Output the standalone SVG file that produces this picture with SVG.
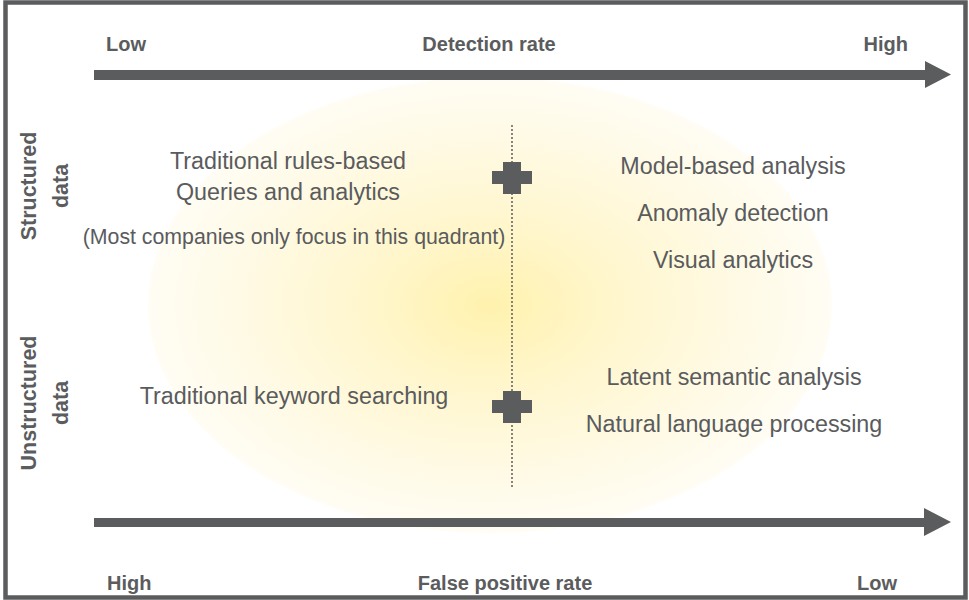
<svg xmlns="http://www.w3.org/2000/svg" width="969" height="600" viewBox="0 0 969 600">
  <defs>
    <radialGradient id="glow" cx="0.5" cy="0.5" r="0.5">
      <stop offset="0" stop-color="#fff2ae"/>
      <stop offset="0.35" stop-color="#fff6cc"/>
      <stop offset="0.75" stop-color="#fffae6"/>
      <stop offset="1" stop-color="#fffdf4"/>
    </radialGradient>
    <style>
      .axis { font-family: "Liberation Sans", Arial, sans-serif; font-weight: bold; font-size: 20px; fill: #5b5c5e; }
      .side { font-family: "Liberation Sans", Arial, sans-serif; font-weight: bold; font-size: 21.5px; fill: #5b5c5e; text-anchor: middle; }
      .item { font-family: "Liberation Sans", Arial, sans-serif; font-size: 23.3px; fill: #5a5b5d; text-anchor: middle; }
      .note { font-family: "Liberation Sans", Arial, sans-serif; font-size: 21.3px; fill: #5a5b5d; text-anchor: middle; }
      .shaft { fill: #5b5c5e; }
      .plus { fill: #5b5c5e; }
      .divider { stroke: #5b5c5e; stroke-width: 2; stroke-dasharray: 0 4; stroke-linecap: round; fill: none; }
    </style>
  </defs>

  <!-- background and frame -->
  <rect x="0" y="0" width="969" height="600" fill="#ffffff"/>
  <ellipse cx="490" cy="305" rx="342" ry="228" fill="url(#glow)"/>
  <rect x="5.5" y="2.5" width="960" height="595" fill="none" stroke="#5b5c5e" stroke-width="4.5"/>

  <!-- axes -->
  <g id="connectors">
    <path class="shaft" d="M94,70 H925 V61 L951,74.5 L925,88 V80 H94 Z"/>
    <path class="shaft" d="M94,518 H924 V508 L951,522 L924,536 V527 H94 Z"/>
    <line class="divider" x1="512" y1="126" x2="512" y2="487"/>
  </g>

  <!-- axis labels -->
  <g id="detection-axis">
    <text class="axis" x="106" y="51">Low</text>
    <text class="axis" x="489" y="51" text-anchor="middle">Detection rate</text>
    <text class="axis" x="908" y="51" text-anchor="end">High</text>
  </g>
  <g id="false-positive-axis">
    <text class="axis" x="107" y="590">High</text>
    <text class="axis" x="505" y="590" text-anchor="middle">False positive rate</text>
    <text class="axis" x="897" y="590" text-anchor="end">Low</text>
  </g>

  <!-- row labels -->
  <g id="row-structured" transform="translate(0,186) rotate(-90)">
    <text class="side" x="0" y="36">Structured</text>
    <text class="side" x="0" y="68">data</text>
  </g>
  <g id="row-unstructured" transform="translate(0,403) rotate(-90)">
    <text class="side" x="0" y="36">Unstructured</text>
    <text class="side" x="0" y="68">data</text>
  </g>

  <!-- markers on the divider -->
  <g id="marker-structured">
    <rect class="plus" x="492" y="171" width="40" height="13"/>
    <rect class="plus" x="503" y="162" width="18" height="32"/>
  </g>
  <g id="marker-unstructured">
    <rect class="plus" x="492" y="400" width="40" height="13"/>
    <rect class="plus" x="503" y="391" width="18" height="32"/>
  </g>

  <!-- quadrant contents -->
  <g id="structured-low">
    <text class="item" x="288" y="169">Traditional rules-based</text>
    <text class="item" x="288" y="200">Queries and analytics</text>
    <text class="note" x="294" y="244">(Most companies only focus in this quadrant)</text>
  </g>
  <g id="structured-high">
    <text class="item" x="733" y="174">Model-based analysis</text>
    <text class="item" x="733" y="221">Anomaly detection</text>
    <text class="item" x="733" y="268">Visual analytics</text>
  </g>
  <g id="unstructured-low">
    <text class="item" x="294" y="404">Traditional keyword searching</text>
  </g>
  <g id="unstructured-high">
    <text class="item" x="734" y="385">Latent semantic analysis</text>
    <text class="item" x="734" y="432">Natural language processing</text>
  </g>
</svg>
